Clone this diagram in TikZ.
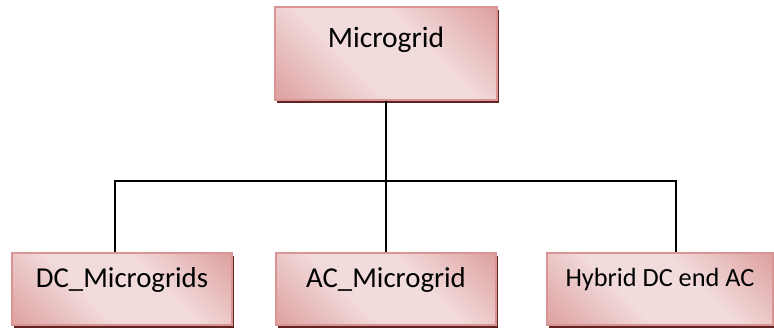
\documentclass[tikz,border=0pt]{standalone}
\usepackage{fontspec}
\setmainfont{Carlito}
\usetikzlibrary{shadows}
\definecolor{rosedark}{HTML}{D99594}
\definecolor{roselight}{HTML}{F2DBDB}
\definecolor{roseshadow}{HTML}{622423}
\pgfdeclarehorizontalshading{roseband}{100bp}{color(0bp)=(rosedark); color(10bp)=(rosedark); color(40bp)=(roselight); color(60bp)=(roselight); color(90bp)=(rosedark); color(100bp)=(rosedark)}
\begin{document}
\begin{tikzpicture}[x=1pt, y=1pt,
		gridbox/.style={draw=rosedark, line width=1.3pt, shading=roseband, shading angle=45,
			drop shadow={shadow xshift=1.5pt, shadow yshift=-3pt, fill=roseshadow, opacity=1},
			inner sep=0pt, minimum width=220, minimum height=72},
		wire/.style={black, line width=1.3pt}]
		\pgfmathsetmacro{\by}{40}
		\pgfmathsetmacro{\bus}{148}
		\useasboundingbox (0, 0) rectangle (774, 329);
		% top box
		\node[gridbox, minimum width=222, minimum height=93, text height=20pt, text depth=31pt,
			font=\fontsize{29.5}{32}\selectfont] (root) at (386, 275.5) {Microgrid};
		% bottom row
		\node[gridbox, text height=19pt, text depth=21pt, font=\fontsize{28.8}{32}\selectfont]
			(dc) at (122, \by) {DC\_Microgrids};
		\node[gridbox, text height=19pt, text depth=21pt, font=\fontsize{28.8}{32}\selectfont]
			(ac) at (386, \by) {AC\_Microgrid};
		\node[gridbox, minimum width=226, text height=17pt, text depth=21pt, font=\fontsize{26.3}{30}\selectfont]
			(hyb) at (660, \by) {Hybrid DC end AC};
		% connectors
		\coordinate (dcdrop) at (115, \bus);
		\coordinate (hybdrop) at (676, \bus);
		\draw[wire] (root.south) -- (ac.north);
		\draw[wire] (dc.north -| dcdrop) -- (dcdrop) -- (hybdrop) -- (hyb.north -| hybdrop);
	\end{tikzpicture}
\end{document}
